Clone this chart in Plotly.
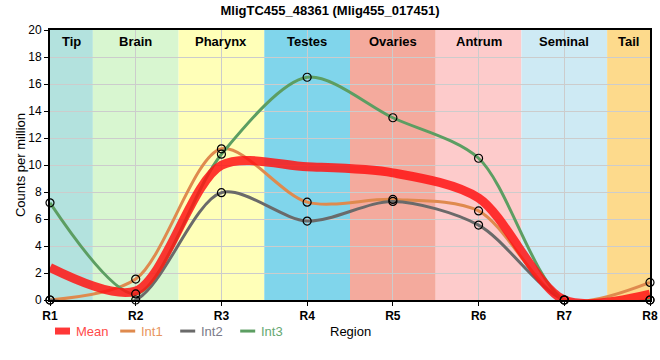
import plotly.graph_objects as go

regions_x = [1, 2, 3, 4, 5, 6, 7, 8]
tick_labels = ["R1", "R2", "R3", "R4", "R5", "R6", "R7", "R8"]
int1 = [0.0, 1.55, 11.2, 7.25, 7.45, 6.6, 0.0, 1.3]
int2 = [0.0, 0.0, 7.95, 5.85, 7.3, 5.55, 0.0, 0.0]
int3 = [7.2, 0.45, 10.8, 16.5, 13.5, 10.5, 0.0, 0.0]
mean = [round((a + b + c) / 3, 3) for a, b, c in zip(int1, int2, int3)]

band_names = ["Tip", "Brain", "Pharynx", "Testes", "Ovaries", "Antrum", "Seminal", "Tail"]
band_colors = ["#b3e2de", "#d8f6d0", "#ffffb8", "#80d5eb", "#f4aa9d", "#fdcbcb", "#ceeaf4", "#fdda8c"]

series = [
    ("Int1", int1, "#df8a4e", "#e8955e"),
    ("Int2", int2, "#6a6a6a", "#7a7a88"),
    ("Int3", int3, "#5c9e62", "#66a872"),
]
mean_color = "rgba(255,20,20,0.85)"
mean_text = "#ff4a4a"

fig = go.Figure()

for name, vals, col, _ in series:
    fig.add_trace(go.Scatter(
        x=regions_x, y=vals, mode="lines", name=name,
        line=dict(color=col, width=3, shape="spline", smoothing=0.85),
    ))

fig.add_trace(go.Scatter(
    x=regions_x, y=mean, mode="lines", name="Mean",
    line=dict(color=mean_color, width=9, shape="spline", smoothing=0.85),
))

for name, vals, col, _ in series:
    fig.add_trace(go.Scatter(
        x=regions_x, y=vals, mode="markers", showlegend=False,
        marker=dict(symbol="circle-open", size=8, color="black", line=dict(width=1.2)),
        cliponaxis=False,
    ))

shapes = []
annotations = []
for i, (bn, bc) in enumerate(zip(band_names, band_colors)):
    x0 = max(regions_x[0], regions_x[i] - 0.5)
    x1 = min(regions_x[-1], regions_x[i] + 0.5)
    shapes.append(dict(type="rect", xref="x", yref="paper", x0=x0, x1=x1, y0=0, y1=1,
                       fillcolor=bc, line=dict(width=0), layer="below"))
    annotations.append(dict(x=(x0 + x1) / 2, y=1, xref="x", yref="paper", yanchor="top",
                            yshift=-2, text=f"<b>{bn}</b>", showarrow=False,
                            font=dict(size=13, color="black")))

# custom legend below the plot (paper coordinates)
leg_y = -0.115
legend_items = [("Mean", mean_color, mean_text, 7)] + [
    (n, c, tc, 3) for (n, _, c, tc) in series
]
legend_x = [0.0083, 0.117, 0.217, 0.317]
for (n, lc, tc, w), lx in zip(legend_items, legend_x):
    shapes.append(dict(type="line", xref="paper", yref="paper", x0=lx, x1=lx + 0.025,
                       y0=leg_y, y1=leg_y, line=dict(color=lc, width=w)))
    annotations.append(dict(x=lx + 0.032, y=leg_y, xref="paper", yref="paper",
                            xanchor="left", yanchor="middle", text=n, showarrow=False,
                            font=dict(size=13, color=tc)))

annotations.append(dict(x=0.5, y=leg_y, xref="paper", yref="paper", text="Region",
                        showarrow=False, yanchor="middle", xanchor="center",
                        font=dict(size=13, color="black")))

fig.update_layout(
    width=660, height=360,
    margin=dict(l=50, r=10, t=30, b=60, autoexpand=False),
    paper_bgcolor="white", plot_bgcolor="white",
    font=dict(family="Liberation Sans, Arial, sans-serif", size=12, color="black"),
    title=dict(text="<b>MligTC455_48361 (Mlig455_017451)</b>", x=0.5, xanchor="center",
               y=0.985, yanchor="top", font=dict(size=13)),
    shapes=shapes, annotations=annotations,
    showlegend=False,
    xaxis=dict(range=[1, 8], tickmode="array", tickvals=regions_x,
               ticktext=[f"<b>{t}</b>" for t in tick_labels],
               showgrid=True, gridcolor="#cccccc", gridwidth=1,
               showline=True, linecolor="black", linewidth=2, mirror=True,
               ticks="outside", ticklen=4, tickcolor="black", zeroline=False,
               tickfont=dict(size=12), automargin=False),
    yaxis=dict(range=[0, 20], dtick=2, showgrid=True, gridcolor="#cccccc", gridwidth=1,
               showline=True, linecolor="black", linewidth=2, mirror=True,
               ticks="outside", ticklen=4, tickcolor="black", zeroline=False,
               title=dict(text="Counts per million", font=dict(size=13), standoff=0),
               tickfont=dict(size=12), automargin=False),
)

fig.write_html("out.html", config={"displayModeBar": False},
               post_script="document.body.style.margin='0';document.body.style.overflow='hidden';")
